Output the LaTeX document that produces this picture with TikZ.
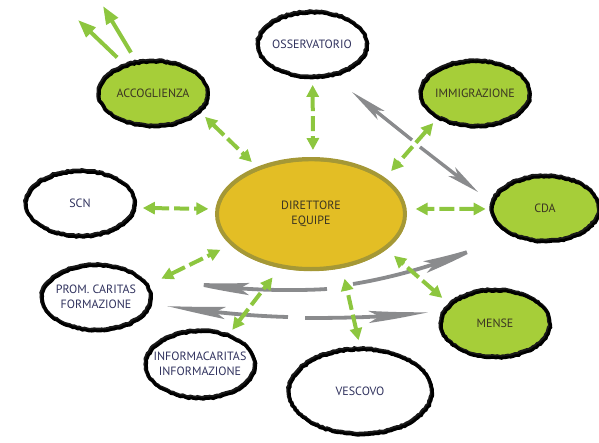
\documentclass[tikz,border=0pt]{standalone}
\usepackage{fontspec}
\setmainfont{PT Sans}
\usetikzlibrary{shapes.geometric,arrows.meta,bending,decorations.pathmorphing}
\definecolor{gfill}{HTML}{A6CE39}
\definecolor{garrow}{HTML}{8DC63F}
\definecolor{yfill}{HTML}{E3BE25}
\definecolor{yedge}{HTML}{A59836}
\definecolor{grayarr}{HTML}{8A8B8D}
\definecolor{txtblue}{HTML}{30325E}
\definecolor{txtdark}{HTML}{3B3522}
\newcommand{\ztxt}[1]{\makebox[0pt]{#1}}
\begin{document}
\pgfmathsetseed{7}
\begin{tikzpicture}[x=1pt,y=-1pt,
  bubble/.style={ellipse, draw=black!90, line width=3.8pt, inner sep=0pt, align=center,
    font=\fontsize{12}{15}\selectfont,
    decorate, decoration={random steps,segment length=2.5pt,amplitude=0.6pt},
    postaction={draw=black, line width=2.8pt, transform canvas={shift={(1pt,-1.4pt)}}}},
  greenbubble/.style={bubble, fill=gfill, text=txtdark},
  whitebubble/.style={bubble, fill=white, text=txtblue},
  gdash/.style={draw=garrow, line width=4pt, dash pattern=on 15pt off 5pt,
    {Triangle[length=12pt,width=12pt]}-{Triangle[length=12pt,width=12pt]}},
  gsolid/.style={draw=garrow, line width=4pt, -{Triangle[length=18pt,width=13pt]}},
  gline/.style={draw=grayarr, line width=3.8pt},
]
\useasboundingbox (0,0) rectangle (599,442);

% nodes
\node[greenbubble, minimum width=109pt, minimum height=65pt] (acc) at (153,93) {\ztxt{ACCOGLIENZA}};
\node[whitebubble, minimum width=109pt, minimum height=65pt] (oss) at (312,44) {\ztxt{OSSERVATORIO}};
\node[greenbubble, minimum width=109pt, minimum height=65pt] (imm) at (475,93) {\ztxt{IMMIGRAZIONE}};
\node[whitebubble, minimum width=109pt, minimum height=65pt] (scn) at (80,203) {\ztxt{SCN}};
\node[greenbubble, minimum width=107pt, minimum height=65pt] (cda) at (545,208) {\ztxt{CDA}};
\node[whitebubble, minimum width=109pt, minimum height=65pt] (prom) at (96,297) {\ztxt{PROM. CARITAS}\\\ztxt{FORMAZIONE}};
\node[whitebubble, minimum width=109pt, minimum height=67pt] (info) at (200,364) {\ztxt{INFORMACARITAS}\\\ztxt{INFORMAZIONE}};
\node[greenbubble, minimum width=109pt, minimum height=67pt] (mense) at (495,323) {\ztxt{MENSE}};
\node[whitebubble, minimum width=143pt, minimum height=85pt] (vesc) at (360,391) {\ztxt{VESCOVO}};
\node[ellipse, draw=yedge, fill=yfill, line width=4pt, minimum width=188pt, minimum height=110pt,
  inner sep=0pt, align=center, text=txtdark, font=\fontsize{12}{15}\selectfont,
  postaction={draw=yedge, line width=2pt, transform canvas={shift={(0.4pt,-1.2pt)}}}]
  (dir) at (311,214) {\ztxt{DIRETTORE}\\\ztxt{EQUIPE}};

% gray arrows
\coordinate (ga1) at (327,289); \coordinate (ga2) at (182,282);
\coordinate (gb1) at (353,284); \coordinate (gb2) at (486,244);
\coordinate (gc1) at (288,317); \coordinate (gc2) at (167,306);
\coordinate (gd1) at (305,318); \coordinate (gd2) at (428,312);
\coordinate (ge1) at (412,140); \coordinate (ge2) at (352,92);
\coordinate (gf1) at (420,147); \coordinate (gf2) at (478,192);
\draw[gline, -{Stealth[length=70pt,width=12pt,inset=10pt,bend]}] (ga1) .. controls (295,291) and (240,291) .. (ga2);
\draw[gline, -{Stealth[length=66pt,width=12pt,inset=10pt,bend]}] (gb1) .. controls (390,278) and (440,265) .. (gb2);
\draw[gline, -{Stealth[length=60pt,width=12pt,inset=10pt,bend]}] (gc1) .. controls (250,316) and (210,312) .. (gc2);
\draw[gline, -{Stealth[length=58pt,width=12pt,inset=10pt,bend]}] (gd1) .. controls (350,318) and (390,317) .. (gd2);
\draw[gline, line width=3.4pt, -{Stealth[length=37pt,width=11pt,inset=8pt]}] (ge1) -- (ge2);
\draw[gline, line width=3.4pt, -{Stealth[length=33pt,width=11pt,inset=8pt]}] (gf1) -- (gf2);

% free green arrows
\coordinate (fa1) at (78,20); \coordinate (fa2) at (103,6);
\draw[gsolid, shorten <=9pt] (acc.135) -- (fa1);
\draw[gsolid, shorten <=9pt] (acc.118) -- (fa2);

% green dashed double arrows
\draw[gdash, shorten <=7pt, shorten >=7pt] (acc.-22) -- (dir.139);
\draw[gdash, shorten <=6.5pt, shorten >=7pt] (oss.-89) -- (dir.88);
\draw[gdash, shorten <=6pt, shorten >=9pt] (imm.214) -- (dir.26);
\draw[gdash, shorten <=7pt, shorten >=7pt] (scn.-5) -- (dir.177);
\draw[gdash, shorten <=4pt, shorten >=9pt] (cda.181) -- (dir.3);
\draw[gdash, shorten <=14pt, shorten >=11pt] (prom.13) -- (dir.201.5);
\draw[gdash, shorten <=5pt, shorten >=12pt] (info.46) -- (dir.240);
\draw[gdash, shorten <=6.5pt, shorten >=11pt] (vesc.90) -- (dir.300);
\draw[gdash, shorten <=8pt, shorten >=10pt] (mense.157) -- (dir.-25);
\end{tikzpicture}
\end{document}
